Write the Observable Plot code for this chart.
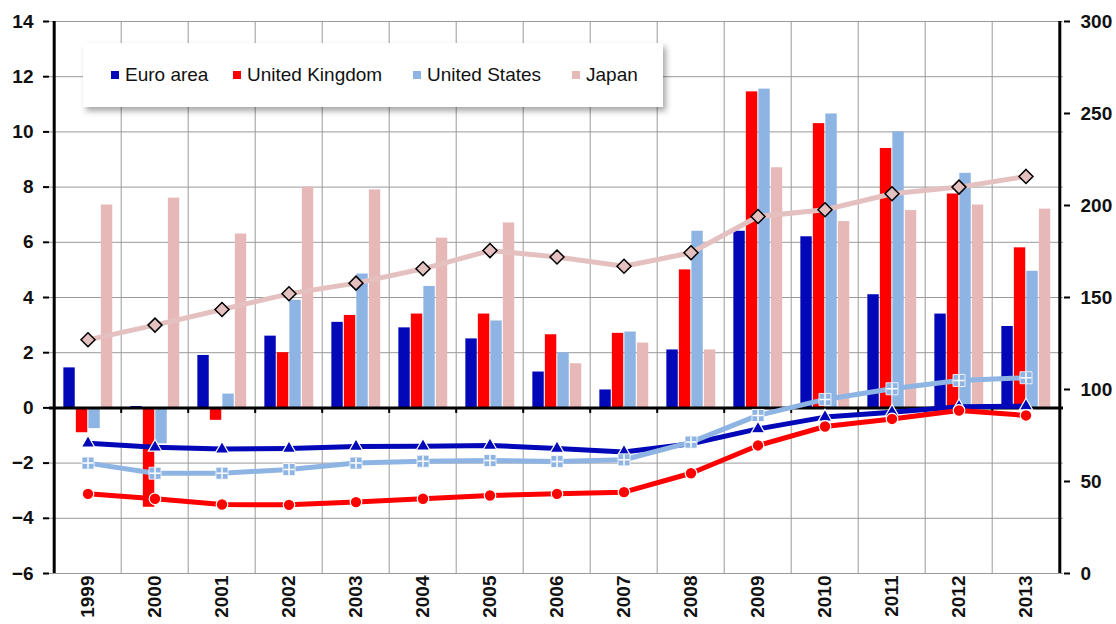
<!DOCTYPE html>
<html><head><meta charset="utf-8">
<script src="https://cdn.jsdelivr.net/npm/d3@7"></script>
<script src="https://cdn.jsdelivr.net/npm/@observablehq/plot@0.6"></script>
<style>
body{margin:0;background:#fff;}
#wrap{position:relative;width:1116px;height:624px;overflow:hidden;font-family:"Liberation Sans",Arial,Helvetica,sans-serif;}
#chart svg text{font-size:19px;font-weight:bold;}
#legend{position:absolute;left:83px;top:43px;width:580px;height:64px;background:#fff;box-shadow:3px 4px 6px rgba(0,0,0,0.35);}
.item{position:absolute;top:0;height:64px;display:flex;align-items:center;font-size:19px;color:#111;white-space:nowrap;}
.sw{width:8px;height:8px;margin-right:6px;}
</style></head>
<body><div id="wrap"><div id="chart"></div><div id="legend"></div></div>
<script>
// ---- data ----
const years = [1999,2000,2001,2002,2003,2004,2005,2006,2007,2008,2009,2010,2011,2012,2013];
const seriesNames = ["Euro area","United Kingdom","United States","Japan"];
// deficits (% of GDP, left axis)
const deficitEuro  = [1.45,0.05,1.9,2.6,3.1,2.9,2.5,1.3,0.65,2.1,6.4,6.2,4.1,3.4,2.95];
const deficitUK    = [-0.9,-3.6,-0.45,2.0,3.35,3.4,3.4,2.65,2.7,5.0,11.45,10.3,9.4,7.75,5.8];
const deficitUS    = [-0.75,-1.3,0.5,3.9,4.85,4.4,3.15,2.0,2.75,6.4,11.55,10.65,10.0,8.5,4.95];
const deficitJapan = [7.35,7.6,6.3,8.0,7.9,6.15,6.7,1.6,2.35,2.1,8.7,6.75,7.15,7.35,7.2];
// debt (% of GDP, right axis)
const debtEuro  = [70.8,68.6,67.6,67.9,69.0,69.2,69.6,68.0,66.0,70.5,78.6,85.0,87.7,90.6,91.0];
const debtUK    = [43.3,40.6,37.5,37.3,38.8,40.6,42.4,43.3,44.2,54.5,69.6,79.9,84.0,88.6,85.9];
const debtUS    = [60.0,54.5,54.5,56.5,60.0,61.0,61.4,60.9,61.8,71.4,85.9,94.6,100.4,104.9,106.4];
const debtJapan = [127,135,143.5,152,157.8,165.6,175.5,172,167,174.3,194,197.7,206.4,210,215.8];
const leftTicks  = [-6,-4,-2,0,2,4,6,8,10,12,14];
const rightTicks = [0,50,100,150,200,250,300];
const barColors  = ["#0208B8","#FF0000","#8EB4E3","#E6B9B8"];
const lineColors = ["#0208B8","#FF0000","#8EB4E3","#E5C0C0"];

// ---- build ----
const W=1116,H=624,mL=49,mR=53,mT=21,mB=51;
const yr = years.map(String);
const bw = (W-mL-mR)/yr.length;
const yMin=leftTicks[0], yMax=leftTicks[leftTicks.length-1];
const rMin=rightTicks[0], rMax=rightTicks[rightTicks.length-1];
const toLeft = v => yMin + (v-rMin)*(yMax-yMin)/(rMax-rMin);
const fromLeft = d => Math.round(rMin + (d-yMin)*(rMax-rMin)/(yMax-yMin));
const deficits = [deficitEuro,deficitUK,deficitUS,deficitJapan];
const debts = [debtEuro,debtUK,debtUS,debtJapan];
const rows = (arr) => arr.map((v,j)=>({year:yr[j], value:v}));

const barMarks = deficits.map((arr,i)=>{
  const c=(i-1.5)*12.5+0.3, w=12;
  return Plot.barY(rows(arr),{x:"year",y:"value",fill:barColors[i],insetLeft:bw/2+c-w/2,insetRight:bw/2-c-w/2});
});
const lineMarks = debts.map((arr,i)=>Plot.line(rows(arr),{x:"year",y:d=>toLeft(d.value),stroke:lineColors[i],strokeWidth:5,strokeLinejoin:"round"}));
const dEuro = rows(debtEuro), dUK=rows(debtUK), dUS=rows(debtUS), dJP=rows(debtJapan);
const yv = d=>toLeft(d.value);

const chart = Plot.plot({
  width:W,height:H,marginLeft:mL,marginRight:mR,marginTop:mT,marginBottom:mB,
  style:{fontFamily:"'Liberation Sans',Arial,Helvetica,sans-serif",background:"#fff",overflow:"visible",fontSize:"19px"},
  x:{type:"band",domain:yr,padding:0},
  y:{domain:[yMin,yMax],nice:false},
  marks:[
    Plot.gridY(leftTicks,{stroke:"#9a9a9a",strokeOpacity:1,strokeWidth:1}),
    Plot.ruleX(yr.slice(1),{dx:-bw/2,stroke:"#9a9a9a",strokeWidth:1}),
    ...barMarks,
    Plot.ruleY([0],{stroke:"#000",strokeWidth:3}),
    Plot.ruleX(yr.slice(1),{y1:0,y2:-0.2,dx:-bw/2,stroke:"#000",strokeWidth:2}),
    lineMarks[0],
    Plot.dot(dEuro,{x:"year",y:yv,symbol:"triangle",r:5,fill:lineColors[0],stroke:"#fff",strokeWidth:1.2}),
    lineMarks[1],
    Plot.dot(dUK,{x:"year",y:yv,symbol:"circle",r:5.8,fill:lineColors[1],stroke:"#fff",strokeWidth:1.2}),
    lineMarks[2],
    Plot.dot(dUS,{x:"year",y:yv,symbol:"square",r:6.8,fill:lineColors[2],stroke:"#fff",strokeWidth:0.8}),
    Plot.dot(dUS,{x:"year",y:yv,symbol:"plus",r:3.6,stroke:"#fff",strokeWidth:1.5}),
    lineMarks[3],
    Plot.dot(dJP,{x:"year",y:yv,symbol:"diamond2",r:6.3,fill:lineColors[3],stroke:"#000",strokeWidth:1.5}),
    Plot.ruleX([yr[0]],{dx:-bw/2,stroke:"#000",strokeWidth:3}),
    Plot.ruleX([yr[yr.length-1]],{dx:bw/2,stroke:"#000",strokeWidth:3}),
    Plot.axisY(leftTicks,{anchor:"left",tickSize:6,tickPadding:10,fontSize:19,fontWeight:"bold",label:null,stroke:"#000",strokeWidth:2,fill:"#111"}),
    Plot.axisY(rightTicks.map(toLeft),{anchor:"right",tickSize:6,tickPadding:11,tickFormat:fromLeft,fontSize:19,fontWeight:"bold",label:null,stroke:"#000",strokeWidth:2,fill:"#111"}),
    Plot.axisX({tickRotate:-90,tickSize:0,tickPadding:2,fontSize:19,fontWeight:"bold",label:null,fill:"#111"})
  ]
});
document.getElementById("chart").appendChild(chart);

// legend
const legendPos = [28,150,330,489];
const lg = document.getElementById("legend");
seriesNames.forEach((s,i)=>{
  const it=document.createElement("div"); it.className="item"; it.style.left=legendPos[i]+"px";
  const sw=document.createElement("div"); sw.className="sw"; sw.style.background=barColors[i];
  const tx=document.createElement("span"); tx.textContent=s;
  it.appendChild(sw); it.appendChild(tx); lg.appendChild(it);
});
</script>
</body></html>
